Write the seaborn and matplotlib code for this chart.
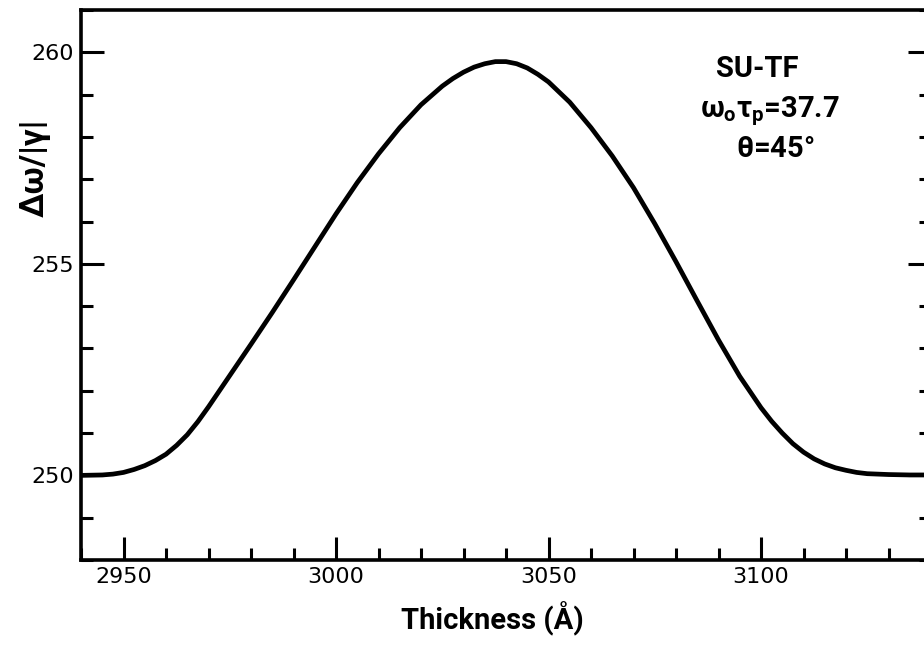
import numpy as np
import pandas as pd
import matplotlib
matplotlib.use("Agg")
import matplotlib.pyplot as plt
import seaborn as sns
from matplotlib.ticker import MultipleLocator

# ---- data ----
thickness = [2940, 2945, 2947.5, 2950, 2952.5, 2955, 2957.5, 2960, 2962.5, 2965, 2967.5,
             2970, 2975, 2980, 2985, 2990, 2995, 3000, 3005, 3010, 3015, 3020,
             3025, 3027.5, 3030, 3032.5, 3035, 3037.5, 3040, 3042.5, 3045, 3047.5,
             3050, 3055, 3060, 3065, 3070, 3075, 3080, 3085, 3090, 3095, 3100,
             3102.5, 3105, 3107.5, 3110, 3112.5, 3115, 3117.5, 3120, 3122.5, 3125,
             3130, 3135, 3140]
delta_w = [250.00, 250.01, 250.03, 250.07, 250.14, 250.23, 250.35, 250.50, 250.71, 250.96, 251.27,
           251.62, 252.36, 253.10, 253.85, 254.62, 255.40, 256.18, 256.92, 257.60, 258.22, 258.76,
           259.20, 259.38, 259.53, 259.65, 259.73, 259.78, 259.78, 259.73, 259.63, 259.48,
           259.30, 258.82, 258.22, 257.55, 256.80, 255.95, 255.05, 254.12, 253.20, 252.34, 251.60,
           251.28, 251.00, 250.75, 250.55, 250.39, 250.27, 250.18, 250.12, 250.07, 250.04,
           250.02, 250.01, 250.01]
x_major = [2950, 3000, 3050, 3100]
y_major = [250, 255, 260]
x_label = "Thickness (Å)"
y_label = "Δω/|γ|"
notes = ["SU-TF", r"$\omega_{o}\tau_{p}$=37.7", r"$\theta$=45°"]

df = pd.DataFrame({"t": thickness, "dw": delta_w})

sns.set_theme(style="ticks")
plt.rcParams["font.family"] = ["DejaVu Sans"]
plt.rcParams["mathtext.fontset"] = "custom"
plt.rcParams["mathtext.rm"] = "Roboto:bold"
plt.rcParams["mathtext.it"] = "Roboto:bold"
plt.rcParams["mathtext.bf"] = "Roboto:bold"

W, H = 924, 646
fig = plt.figure(figsize=(W / 100, H / 100), dpi=100)
ax = fig.add_axes([81 / W, 1 - 560 / H, 850 / W, 550 / H])

sns.lineplot(data=df, x="t", y="dw", ax=ax, color="black", linewidth=3.4)
for ln in ax.get_lines():
    ln.set_solid_joinstyle("round")
    ln.set_solid_capstyle("round")

ax.set_xlim(2940, 3140)
ax.set_ylim(248, 261)
ax.set_xticks(x_major)
ax.set_yticks(y_major)
ax.xaxis.set_minor_locator(MultipleLocator(10))
ax.yaxis.set_minor_locator(MultipleLocator(1))

for s in ["left", "bottom", "top", "right"]:
    ax.spines[s].set_visible(True)
    ax.spines[s].set_linewidth(2.6)
    ax.spines[s].set_color("black")

ax.tick_params(axis="both", which="both", direction="in", color="black", width=2.2)
ax.tick_params(axis="both", which="major", length=16.5, pad=5, labelsize=16)
ax.tick_params(axis="both", which="minor", length=8.5)
ax.tick_params(axis="x", which="both", top=False, bottom=True)
ax.tick_params(axis="y", which="both", left=True, right=True)
for lab in ax.get_xticklabels() + ax.get_yticklabels():
    lab.set_color("black")

ax.set_xlabel(x_label, fontsize=21, fontweight="bold", family=["Roboto", "DejaVu Sans"], color="black")
ax.set_ylabel(y_label, fontsize=24, fontweight="bold", family=["Roboto", "DejaVu Sans"], color="black")
ax.xaxis.set_label_coords(0.4835, -0.075)
ax.yaxis.set_label_coords(-0.036, 0.713)

fig.text(757 / W, 1 - 77 / H, notes[0], ha="center", va="baseline", fontsize=21,
         fontweight="bold", family=["Roboto", "DejaVu Sans"], color="black")
fig.text(700 / W, 1 - 117 / H, notes[1], ha="left", va="baseline", fontsize=21,
         fontweight="bold", family=["Roboto", "DejaVu Sans"], color="black")
fig.text(736 / W, 1 - 157 / H, notes[2], ha="left", va="baseline", fontsize=21,
         fontweight="bold", family=["Roboto", "DejaVu Sans"], color="black")

fig.savefig("out.png", dpi=100, facecolor="white")
